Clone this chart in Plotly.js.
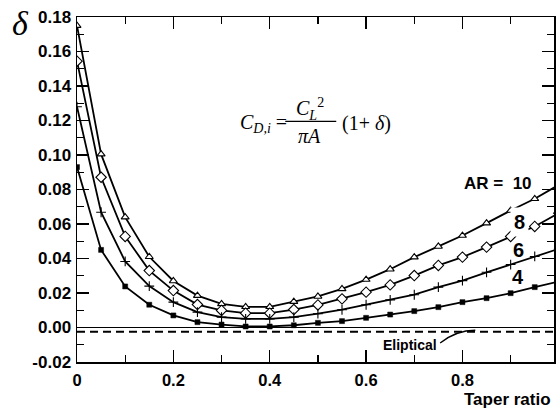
<!DOCTYPE html>
<html>
<head>
<meta charset="utf-8">
<script src="https://cdn.plot.ly/plotly-3.0.1.min.js"></script>
<style>html,body{margin:0;padding:0;background:#fff;}#chart{width:560px;height:414px;}</style>
</head>
<body>
<div id="chart"></div>
<script>
// Data
var taper = [0, 0.05, 0.1, 0.15, 0.2, 0.25, 0.3, 0.35, 0.4, 0.45, 0.5, 0.55, 0.6, 0.65, 0.7, 0.75, 0.8, 0.85, 0.9, 0.95, 1.0];
var ar10 = [0.175, 0.1005, 0.064, 0.041, 0.027, 0.0185, 0.0137, 0.012, 0.012, 0.015, 0.018, 0.0224, 0.0278, 0.0338, 0.0408, 0.047, 0.0533, 0.0605, 0.0678, 0.0746, 0.0827];
var ar8  = [0.1544, 0.0871, 0.0528, 0.033, 0.0214, 0.0133, 0.0099, 0.0083, 0.0083, 0.0104, 0.0131, 0.0166, 0.0205, 0.0247, 0.0301, 0.036, 0.0408, 0.0466, 0.0528, 0.0586, 0.0663];
var ar6  = [0.128, 0.0668, 0.0383, 0.024, 0.0147, 0.0089, 0.006, 0.005, 0.005, 0.006, 0.008, 0.0103, 0.0132, 0.016, 0.019, 0.0234, 0.0272, 0.032, 0.0365, 0.0412, 0.0456];
var ar4  = [0.093, 0.045, 0.0238, 0.0132, 0.007, 0.0031, 0.0017, 0.0006, 0.0006, 0.0013, 0.0027, 0.0037, 0.0056, 0.0075, 0.0095, 0.0118, 0.0147, 0.017, 0.0199, 0.0234, 0.0267];
var ellipticalX = [0, 1];
var ellipticalY = [-0.0025, -0.0025];
var xTickVals = [0, 0.2, 0.4, 0.6, 0.8];
var xTickText = ['0', '0.2', '0.4', '0.6', '0.8'];
var yTickVals = [-0.02, 0, 0.02, 0.04, 0.06, 0.08, 0.1, 0.12, 0.14, 0.16, 0.18];
var yTickText = ['-0.02', '0.00', '0.02', '0.04', '0.06', '0.08', '0.10', '0.12', '0.14', '0.16', '0.18'];

function boldify(arr) { return arr.map(function (t) { return '<b>' + t + '</b>'; }); }

var lineStyle = {color: '#000', width: 1.8};
var traces = [
  {x: taper, y: ar10, type: 'scatter', mode: 'lines+markers', line: lineStyle,
   marker: {symbol: 'triangle-up', size: 7, color: '#fff', line: {color: '#000', width: 1.1}}},
  {x: taper, y: ar8, type: 'scatter', mode: 'lines+markers', line: lineStyle,
   marker: {symbol: 'diamond', size: 8, color: '#fff', line: {color: '#000', width: 1.1}}},
  {x: taper, y: ar6, type: 'scatter', mode: 'lines+markers', line: lineStyle,
   marker: {symbol: 'cross-thin-open', size: 7, color: '#000', line: {color: '#000', width: 1.1}}},
  {x: taper, y: ar4, type: 'scatter', mode: 'lines+markers', line: lineStyle,
   marker: {symbol: 'square', size: 5, color: '#000', line: {color: '#000', width: 0.5}}},
  {x: ellipticalX, y: ellipticalY, type: 'scatter', mode: 'lines',
   line: {color: '#000', width: 2, dash: '8px,5px'}}
];

var sans = 'Liberation Sans, Arial, sans-serif';
var serif = 'Liberation Serif, Times New Roman, serif';

function note(x, y, text, size, family, extra) {
  var a = {xref: 'paper', yref: 'paper', x: x, y: y, xanchor: 'center', yanchor: 'middle',
           showarrow: false, text: text, font: {family: family, size: size, color: '#000'}};
  if (extra) { for (var k in extra) a[k] = extra[k]; }
  return a;
}

var layout = {
  width: 560, height: 414,
  margin: {l: 76.5, r: 6, t: 16.5, b: 52},
  paper_bgcolor: '#fff', plot_bgcolor: '#fff',
  showlegend: false,
  xaxis: {
    range: [0, 0.99], showgrid: false, zeroline: false,
    showline: true, linecolor: '#000', linewidth: 1.5, mirror: 'ticks',
    ticks: 'inside', ticklen: 12, tickwidth: 1.2, tickcolor: '#000',
    tickvals: xTickVals, ticktext: boldify(xTickText),
    tickfont: {family: sans, size: 16.5, color: '#000'},
    ticklabelstandoff: 3,
    minor: {dtick: 0.1, tick0: 0, ticks: 'inside', ticklen: 7, tickwidth: 1.2, tickcolor: '#000', showgrid: false}
  },
  yaxis: {
    range: [-0.02, 0.18], showgrid: false,
    zeroline: true, zerolinecolor: '#000', zerolinewidth: 1,
    showline: true, linecolor: '#000', linewidth: 1.5, mirror: 'ticks',
    ticks: 'inside', ticklen: 12, tickwidth: 1.2, tickcolor: '#000',
    tickvals: yTickVals, ticktext: boldify(yTickText),
    tickfont: {family: sans, size: 17, color: '#000'},
    ticklabelstandoff: 1,
    minor: {dtick: 0.01, tick0: 0, ticks: 'inside', ticklen: 7, tickwidth: 1.2, tickcolor: '#000', showgrid: false}
  },
  shapes: [
    {type: 'line', xref: 'paper', yref: 'paper', x0: 0.4366, x1: 0.5435, y0: 0.6975, y1: 0.6975,
     line: {color: '#000', width: 1.2}},
    {type: 'path', xref: 'paper', yref: 'paper',
     path: 'M 0.7613 0.055 Q 0.795 0.092 0.835 0.092',
     line: {color: '#000', width: 1.3}}
  ],
  annotations: [
    note(0.392, 0.6918, '<i>C</i><sub><i>D,i</i></sub> =', 20, serif),
    note(0.4885, 0.7325, '<i>C</i><sub><i>L</i></sub><sup>2</sup>', 20, serif),
    note(0.4875, 0.655, '<i>πA</i>', 20, serif),
    note(0.607, 0.6918, '(1+ <i>δ</i>)', 20, serif),
    note(0.8827, 0.518, '<b>AR =  10</b>', 17, sans),
    note(0.9267, 0.4052, '<b>8</b>', 20, sans, {bgcolor: '#fff', borderpad: 3}),
    note(0.9246, 0.3242, '<b>6</b>', 20, sans),
    note(0.9246, 0.246, '<b>4</b>', 20, sans),
    note(0.6984, 0.0492, '<b>Eliptical</b>', 14, sans),
    note(0.998, -0.11, '<b>Taper ratio</b>', 17, sans, {xanchor: 'right'}),
    note(-0.118, 0.982, '<i>δ</i>', 34, serif)
  ]
};

Plotly.newPlot('chart', traces, layout, {staticPlot: true, displayModeBar: false});
</script>
</body>
</html>
